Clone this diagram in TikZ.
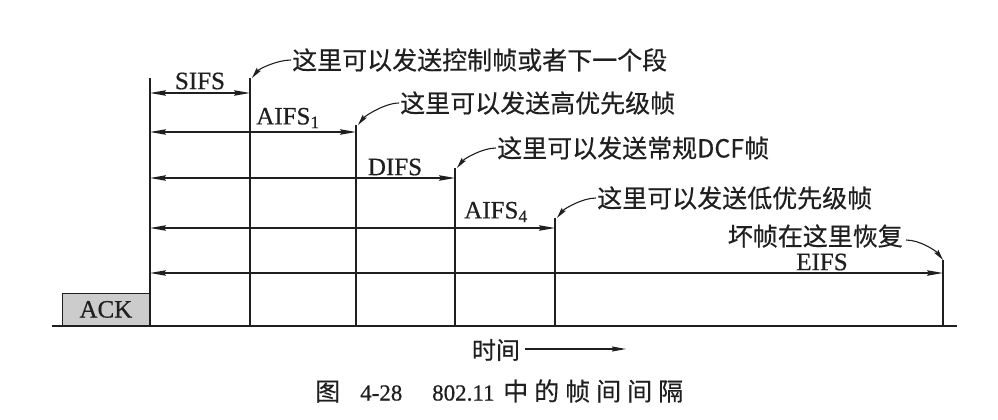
\documentclass[tikz,border=0pt]{standalone}
\usepackage{fontspec}
\setmainfont{Liberation Serif}[FakeBold=0.6]
\newfontfamily\cjk{Noto Sans CJK SC}[FakeBold=0.4]
\usetikzlibrary{arrows.meta}
\definecolor{ink}{gray}{0.12}
\definecolor{ackgray}{gray}{0.80}
\newcommand\capch[1]{\makebox[31pt][l]{#1}}
\begin{document}
\begin{tikzpicture}[x=1pt,y=-1pt,
  vline/.style={line width=1.4pt, draw=ink},
  dim/.style={line width=1.3pt, draw=ink,
    {Stealth[length=16pt,width=5.5pt,inset=2pt]}-{Stealth[length=16pt,width=5.5pt,inset=2pt]}},
  call/.style={line width=1.1pt, draw=ink, -{Stealth[length=11pt,width=5pt,inset=1.5pt]}},
  lab/.style={font=\fontsize{25}{28}\selectfont, text=ink, inner sep=0pt},
  cj/.style={font=\cjk\fontsize{25}{28}\selectfont, text=ink, inner sep=0pt},
]
\useasboundingbox (0,0) rectangle (998,420);

% vertical line tops
\coordinate (t0) at (150,78);
\coordinate (t1) at (250,78);
\coordinate (t2) at (356,125);
\coordinate (t3) at (455,168);
\coordinate (t4) at (555,218);
\coordinate (t5) at (943,260);
% baseline
\coordinate (bl) at (52,326);
\coordinate (br) at (957,326);
% rows
\coordinate (r1) at (0,93);
\coordinate (r2) at (0,132);
\coordinate (r3) at (0,178);
\coordinate (r4) at (0,228);
\coordinate (r5) at (0,273);

% ACK box
\node[draw=ink, line width=1.2pt, fill=ackgray, minimum width=87pt, minimum height=32pt,
      anchor=south east, inner sep=0pt, font=\fontsize{25}{27}\selectfont, text=ink] (ack) at (150,326) {ACK};

\draw[vline] (bl) -- (br);
\foreach \t in {t0,t1,t2,t3,t4,t5}{
  \draw[vline] (\t) -- (\t |- bl);
}

% dimension arrows
\draw[dim] (t0 |- r1) -- (t1 |- r1);
\draw[dim] (t0 |- r2) -- (t2 |- r2);
\draw[dim] (t0 |- r3) -- (t3 |- r3);
\draw[dim] (t0 |- r4) -- (t4 |- r4);
\draw[dim] (t0 |- r5) -- (t5 |- r5);

% interval labels
\node[lab] (sifs) at (200,81) {SIFS};
\node[lab] (aifs1) at (288,118) {AIFS\textsubscript{1}};
\node[lab] (difs) at (395,167) {DIFS};
\node[lab] (aifs4) at (496,212) {AIFS\textsubscript{4}};
\node[lab] (eifs) at (822,262) {EIFS};

% callouts
\node[cj, anchor=west] (c1) at (292,60) {这里可以发送控制帧或者下一个段};
\node[cj, anchor=west] (c2) at (400,103) {这里可以发送高优先级帧};
\node[cj, anchor=west] (c3) at (497,148) {这里可以发送常规DCF帧};
\node[cj, anchor=west] (c4) at (597,198) {这里可以发送低优先级帧};
\node[cj, anchor=east] (c5) at (903,236) {坏帧在这里恢复};

\draw[call] ([xshift=-1pt]c1.west) .. controls +(-14,0) and +(7,-9) .. ([xshift=2pt]t1);
\draw[call] ([xshift=-1pt]c2.west) .. controls +(-14,0) and +(7,-9) .. ([xshift=2pt]t2);
\draw[call] ([xshift=-1pt]c3.west) .. controls +(-14,0) and +(7,-9) .. ([xshift=2pt]t3);
\draw[call] ([xshift=-1pt]c4.west) .. controls +(-14,0) and +(7,-9) .. ([xshift=2pt]t4);
\draw[call] ([xshift=3pt,yshift=-4pt]c5.east) .. controls +(14,0) and +(-7,-9) .. (t5);

% time axis label
\node[cj, font=\cjk\fontsize{24}{26}\selectfont] (time) at (496,350) {时间};
\coordinate (tend) at (626,349);
\draw[line width=1.1pt, draw=ink, -{Stealth[length=14pt,width=5pt,inset=1.5pt]}, shorten <=5pt] (time.east |- tend) -- (tend);

% caption
\node[anchor=west, inner sep=0pt, text=ink, font=\fontsize{23}{28}\selectfont] (cap) at (315,391)
  {\makebox[45pt][l]{\cjk\fontsize{25}{28}\selectfont 图}\makebox[72pt][l]{4-28}\makebox[71pt][l]{802.11}{\cjk\fontsize{25}{28}\selectfont\capch{中}\capch{的}\capch{帧}\capch{间}\capch{间}\capch{隔}}};
\end{tikzpicture}
\end{document}
